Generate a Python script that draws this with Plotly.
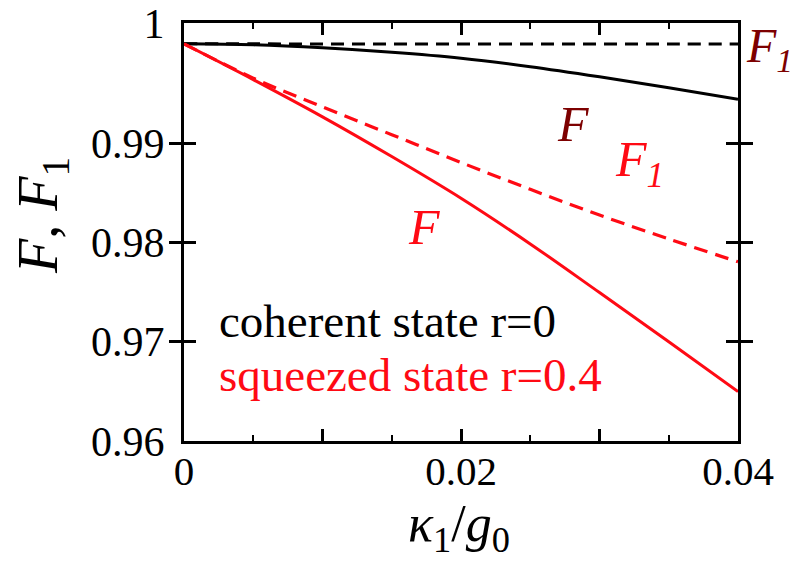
import plotly.graph_objects as go

# ---- data ----
kappa = [0.0, 0.005, 0.01, 0.015, 0.02, 0.025, 0.03, 0.035, 0.04]
F_coherent = [1.0, 0.99990, 0.99960, 0.99915, 0.99855, 0.99770, 0.99668, 0.99558, 0.99442]
F1_coherent = [1.0, 1.0, 0.99999, 0.99999, 0.99999, 0.99999, 0.99999, 0.99999, 0.99999]
F_squeezed = [1.0, 0.99640, 0.99265, 0.98865, 0.98445, 0.97985, 0.97495, 0.97000, 0.96497]
F1_squeezed = [1.0, 0.99655, 0.99365, 0.99085, 0.98805, 0.98535, 0.98275, 0.98035, 0.97805]

x_tickvals = [0, 0.02, 0.04]
x_ticktext = ["0", "0.02", "0.04"]
x_midticks = [0.01, 0.03]
y_tickvals = [0.96, 0.97, 0.98, 0.99, 1.0021]
y_ticktext = ["0.96", "0.97", "0.98", "0.99", "1"]

RED = "#ff0a14"
DARKRED = "#7d0000"
FONT = "Liberation Serif"

fig = go.Figure()
fig.add_trace(go.Scatter(x=kappa, y=F1_coherent, mode="lines", line=dict(color="black", width=3, dash="13px,8px", shape="spline")))
fig.add_trace(go.Scatter(x=kappa, y=F_coherent, mode="lines", line=dict(color="black", width=3, shape="spline")))
fig.add_trace(go.Scatter(x=kappa, y=F1_squeezed, mode="lines", line=dict(color=RED, width=3.2, dash="14px,8px", shape="spline")))
fig.add_trace(go.Scatter(x=kappa, y=F_squeezed, mode="lines", line=dict(color=RED, width=3, shape="spline")))
# invisible trace to carry the secondary x axis (extra major tick marks)
fig.add_trace(go.Scatter(x=[0, 0.04], y=[0.96, 0.96], xaxis="x2", mode="lines",
                         line=dict(color="rgba(0,0,0,0)"), hoverinfo="skip"))

ann = []
def add(text, x, y, color, size, xref="x", yref="y", xanchor="center", yanchor="middle", angle=0):
    ann.append(dict(text=text, x=x, y=y, xref=xref, yref=yref, showarrow=False,
                    xanchor=xanchor, yanchor=yanchor, textangle=angle,
                    font=dict(family=FONT, size=size, color=color)))

add("coherent state r=0", 0.00235, 0.9721, "black", 47, xanchor="left")
add("squeezed state r=0.4", 0.00235, 0.9666, RED, 47, xanchor="left")
add("<i>F</i>", 0.0281, 0.99190, DARKRED, 50)
add("<i>F<sub>1</sub></i>", 0.0329, 0.98800, RED, 50)
add("<i>F</i>", 0.01735, 0.98157, RED, 50)
add("<i>F<sub>1</sub></i>", 1.010, 0.99945, DARKRED, 48, xref="paper", xanchor="left")
add("<i>κ</i><sub>1</sub>/<i>g</i><sub>0</sub>", 0.497, -0.207, "black", 52, xref="paper", yref="paper")
add("<i>F</i>, <i>F</i><sub>1</sub>", -0.255, 0.54, "black", 56, xref="paper", yref="paper", angle=-90)

fig.update_layout(
    width=795, height=564,
    margin=dict(l=184, r=57, t=23, b=123, autoexpand=False),
    plot_bgcolor="white", paper_bgcolor="white",
    showlegend=False,
    annotations=ann,
    font=dict(family=FONT, color="black"),
    xaxis2=dict(overlaying="x", side="bottom", range=[0, 0.04], showgrid=False, zeroline=False,
                showline=False, mirror="allticks", ticks="inside", ticklen=12, tickwidth=2.5,
                tickcolor="black", tickvals=x_midticks, showticklabels=False, automargin=False),
)
fig.layout.xaxis.update(
    range=[0, 0.04], showgrid=False, zeroline=False, automargin=False,
    showline=True, linewidth=3, linecolor="black", mirror="allticks",
    ticks="inside", ticklen=12, tickwidth=2.5, tickcolor="black",
    tickvals=x_tickvals, ticktext=x_ticktext, ticklabelstandoff=-8,
    tickfont=dict(family=FONT, size=41, color="black"),
    minor=dict(dtick=0.005, ticks="inside", ticklen=6, tickwidth=2, tickcolor="black", showgrid=False),
)
fig.layout.yaxis.update(
    range=[0.96, 1.0021], showgrid=False, zeroline=False, automargin=False,
    showline=True, linewidth=3, linecolor="black", mirror="allticks",
    ticks="inside", ticklen=12, tickwidth=2.5, tickcolor="black",
    tickvals=y_tickvals, ticktext=y_ticktext, ticklabelstandoff=8,
    tickfont=dict(family=FONT, size=42, color="black"),
)

fig.write_html("out.html")
